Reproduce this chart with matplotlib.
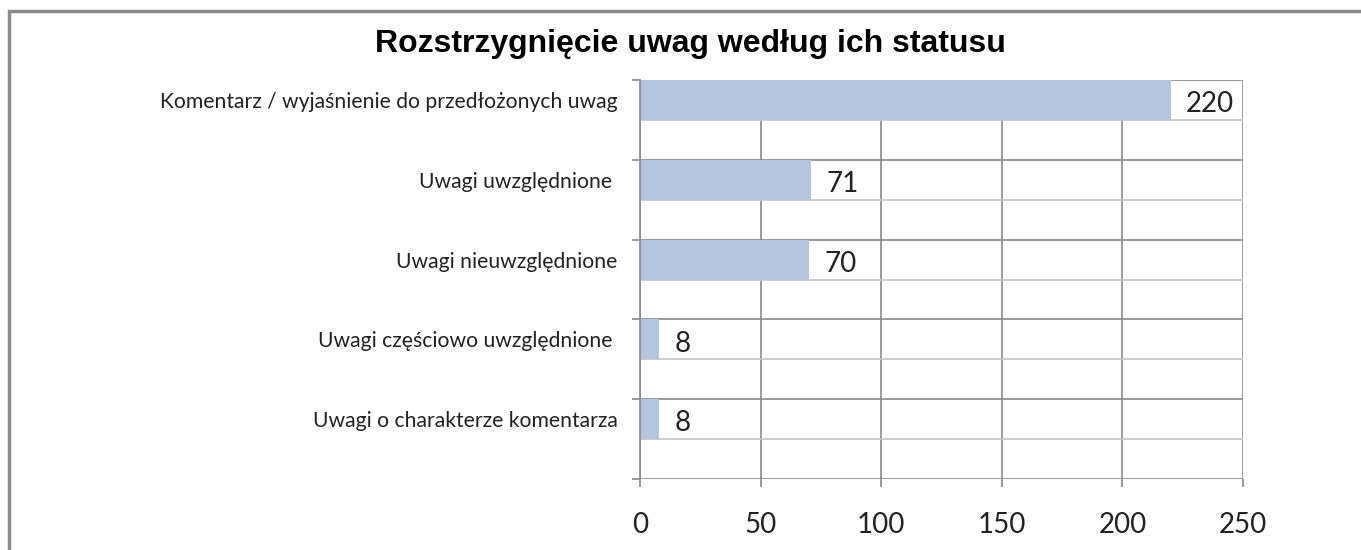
"""
Rozstrzygnięcie uwag według ich statusu - horizontal bar chart
"""

import numpy as np
import matplotlib

matplotlib.use("Agg")
import matplotlib.pyplot as plt  # noqa:E402
from matplotlib.patches import Rectangle  # noqa:E402

# data, top to bottom
categories = [
    "Komentarz / wyjaśnienie do przedłożonych uwag",
    "Uwagi uwzględnione ",
    "Uwagi nieuwzględnione",
    "Uwagi częściowo uwzględnione ",
    "Uwagi o charakterze komentarza",
]
counts = [220, 71, 70, 8, 8]
x_ticks = [0, 50, 100, 150, 200, 250]

BAR_COLOR = "#b7c4df"
GRID_DARK = "#8a8a8a"
GRID_LIGHT = "#c4c4c4"
LABEL_FONT = ["Lato", "DejaVu Sans"]
TITLE_FONT = ["Liberation Sans", "DejaVu Sans"]


def main():
    fig = plt.figure(figsize=(13.61, 5.5), dpi=100)
    ax = fig.add_axes([0.4703, 0.1291, 0.4430, 0.7254])

    n = len(categories)
    pos = np.arange(n)

    # bars fill the upper half of each category slot
    ax.barh(pos - 0.25, counts, height=0.5, color=BAR_COLOR, zorder=3)

    ax.set_xlim(0, 250)
    ax.set_ylim(n - 0.5, -0.5)

    # grid: dark lines at slot borders, light lines at slot middles
    ax.set_xticks(x_ticks)
    ax.set_xticklabels([str(t) for t in x_ticks], family=LABEL_FONT, fontsize=20,
                       color="#222222")
    ax.set_yticks(pos - 0.25)
    ax.set_yticklabels(categories, family=LABEL_FONT, fontsize=15.2, color="#222222")
    ax.set_yticks(np.arange(n + 1) - 0.5, minor=True)

    ax.tick_params(axis="y", which="major", length=0, pad=16)
    ax.tick_params(axis="y", which="minor", length=6, width=1.2, color=GRID_DARK)
    ax.tick_params(axis="x", length=6, width=1.2, color=GRID_DARK, pad=18)

    ax.grid(axis="x", color=GRID_DARK, linewidth=1.2, zorder=1)
    ax.grid(axis="y", which="minor", color=GRID_DARK, linewidth=1.2, zorder=1)
    for p in pos:
        ax.axhline(p, color=GRID_LIGHT, linewidth=1.2, zorder=1)
    ax.set_axisbelow(True)

    for side in ["top", "right", "bottom"]:
        ax.spines[side].set_visible(False)
    ax.spines["left"].set_color(GRID_DARK)
    ax.spines["left"].set_linewidth(1.2)
    ax.spines["left"].set_zorder(4)

    # value labels
    for p, v in zip(pos, counts):
        ax.annotate(str(v), (v, p - 0.25), xytext=(11, -3), textcoords="offset points",
                    ha="left", va="center", family=LABEL_FONT, fontsize=20,
                    color="#222222", zorder=5)

    fig.text(0.507, 0.92, "Rozstrzygnięcie uwag według ich statusu",
             ha="center", va="center", family=TITLE_FONT, fontweight="bold",
             fontsize=23, color="black")

    # chart area frame (top and left edges visible)
    fig.patches.append(Rectangle((9 / 1361, -0.05), 1.05, 1.05 - 10.5 / 550,
                                 transform=fig.transFigure, fill=False,
                                 edgecolor="#8c8c8c", linewidth=2.5))

    fig.savefig("out.png", dpi=100)
    plt.close(fig)


if __name__ == "__main__":
    main()
